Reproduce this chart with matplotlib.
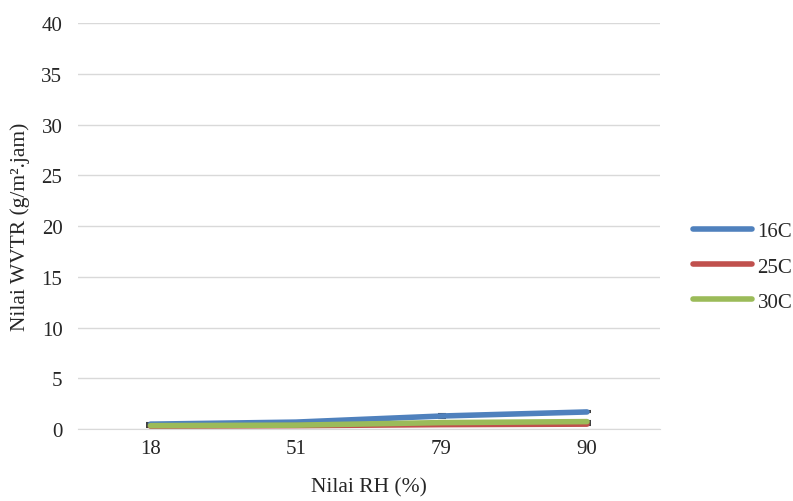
import matplotlib.pyplot as plt
import numpy as np

plt.rcParams['font.family'] = ['Liberation Serif', 'DejaVu Serif']

rh_labels = ['18', '51', '79', '90']
wvtr_16 = [0.5, 0.7, 1.3, 1.7]
wvtr_25 = [0.3, 0.35, 0.45, 0.5]
wvtr_30 = [0.35, 0.4, 0.65, 0.75]
err_16 = [0.1, 0.05, 0.15, 0.05]
err_25 = [0.05, 0.03, 0.05, 0.05]
err_30 = [0.05, 0.03, 0.05, 0.1]

txt = '#262626'

fig = plt.figure(figsize=(7.93, 5.02), dpi=100)
ax = fig.add_axes([0.098, 0.143, 0.734, 0.809])

x = np.arange(len(rh_labels))
series = [('16C', wvtr_16, err_16, '#4F81BD'),
          ('25C', wvtr_25, err_25, '#C0504D'),
          ('30C', wvtr_30, err_30, '#9BBB59')]
for name, vals, err, col in series:
    ax.errorbar(x, vals, yerr=err, color=col, lw=4, label=name,
                ecolor='#404040', elinewidth=1, capsize=3, capthick=1.5,
                solid_capstyle='round')

ax.set_xlim(-0.5, 3.5)
ax.set_ylim(0, 40)
ax.set_yticks(range(0, 41, 5))
ax.set_xticks(x)
ax.set_xticklabels(rh_labels)
ax.yaxis.grid(True, color='#d9d9d9', lw=1)
ax.set_axisbelow(True)
for s in ['top', 'right', 'left']:
    ax.spines[s].set_visible(False)
ax.spines['bottom'].set_color('#d9d9d9')
ax.tick_params(length=0, labelsize=15, colors=txt)
ax.tick_params(axis='x', pad=7)
ax.tick_params(axis='y', pad=11)

ax.set_xlabel('Nilai RH (%)', fontsize=15.5, color=txt, labelpad=14)
ax.set_ylabel('Nilai WVTR (g/m².jam)', fontsize=15.5, color=txt, labelpad=8)

handles, labels = ax.get_legend_handles_labels()
handles = [h[0] for h in handles]
ax.legend(handles, labels, loc='center left', bbox_to_anchor=(1.057, 0.40),
          frameon=False, fontsize=15, handlelength=2.85, handletextpad=0.25,
          labelspacing=0.75, borderaxespad=0, borderpad=0, labelcolor=txt)

fig.savefig('out.png', dpi=100)
